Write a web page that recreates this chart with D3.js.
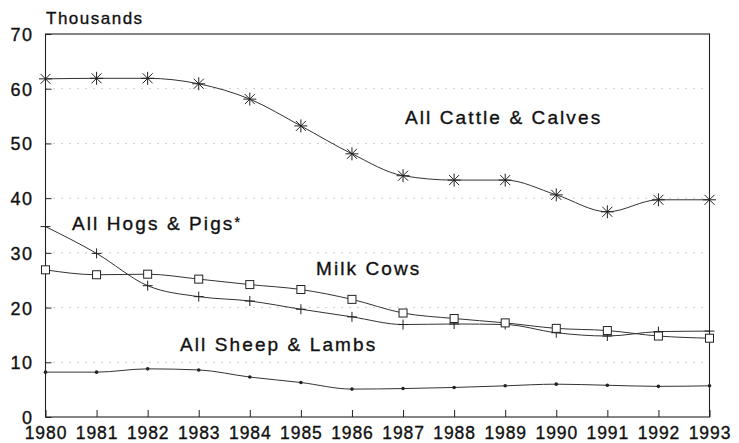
<!DOCTYPE html>
<html>
<head>
<meta charset="utf-8">
<script src="https://cdn.jsdelivr.net/npm/d3@7"></script>
<style>
  html, body { margin: 0; padding: 0; background: #fff; }
  svg { display: block; font-family: "Liberation Sans", Arial, sans-serif; }
</style>
</head>
<body>
<svg id="chart" width="739" height="443"></svg>
<script>
// Livestock inventory, thousands of head
const years = [1980, 1981, 1982, 1983, 1984, 1985, 1986, 1987, 1988, 1989, 1990, 1991, 1992, 1993];
const cattle = [61.8, 61.9, 61.9, 60.9, 58.1, 53.2, 48.1, 44.1, 43.3, 43.3, 40.6, 37.5, 39.7, 39.7];
const hogs   = [34.8, 29.9, 24.0, 22.0, 21.2, 19.7, 18.3, 16.9, 17.0, 16.9, 15.4, 14.8, 15.6, 15.7];
const milk   = [26.9, 26.0, 26.1, 25.2, 24.2, 23.3, 21.5, 19.0, 18.0, 17.2, 16.2, 15.8, 14.8, 14.4];
const sheep  = [8.2, 8.2, 8.8, 8.6, 7.3, 6.3, 5.1, 5.2, 5.4, 5.7, 6.0, 5.8, 5.6, 5.7];
const yTicks = [0, 10, 20, 30, 40, 50, 60, 70];

const seriesLabels = ["All Cattle & Calves", "All Hogs & Pigs", "Milk Cows", "All Sheep & Lambs"];

const svg = d3.select("#chart");
const ink = "#222";

const x = d3.scaleLinear().domain([1980, 1993]).range([45.5, 709.5]);
const y = d3.scaleLinear().domain([0, 70]).range([417, 34]);

// slightly heavier text to match the plotter lettering
const heavy = sel => sel.attr("fill", "#111").attr("stroke", "#111").attr("stroke-width", 0.35);

// dotted gridlines
svg.append("g")
  .selectAll("line")
  .data(yTicks.filter(d => d > 0 && d < 70))
  .join("line")
  .attr("x1", x(1980)).attr("x2", x(1993))
  .attr("y1", d => y(d)).attr("y2", d => y(d))
  .attr("stroke", "#999")
  .attr("stroke-width", 1)
  .attr("stroke-dasharray", "1,7");

// left axis: inward ticks, labels on the left
const yAxis = d3.axisLeft(y).tickValues(yTicks).tickSize(-6).tickPadding(12).tickFormat(d3.format("d"));
const gy = svg.append("g").attr("transform", `translate(${x(1980)},0)`).call(yAxis);
gy.select(".domain").remove();
gy.selectAll(".tick line").attr("stroke", ink).attr("stroke-width", 1);
gy.selectAll(".tick text")
  .call(heavy)
  .style("font-size", "18px")
  .style("letter-spacing", "1.5px")
  .attr("dy", "0.36em");

// bottom axis: inward ticks, year labels below
const xAxis = d3.axisBottom(x).tickValues(years).tickSize(-7).tickPadding(10).tickFormat(d3.format("d"));
const gx = svg.append("g").attr("transform", `translate(0,${y(0)})`).call(xAxis);
gx.select(".domain").remove();
gx.selectAll(".tick line").attr("stroke", ink).attr("stroke-width", 1);
gx.selectAll(".tick text")
  .call(heavy)
  .style("font-size", "17.5px")
  .style("letter-spacing", "0.9px")
  .attr("dy", "0.71em");

// frame
svg.append("rect")
  .attr("x", x(1980)).attr("y", y(70))
  .attr("width", x(1993) - x(1980)).attr("height", y(0) - y(70))
  .attr("fill", "none").attr("stroke", ink).attr("stroke-width", 1.1);

svg.append("text")
  .attr("x", 46).attr("y", 24)
  .call(heavy)
  .style("font-size", "17px")
  .style("letter-spacing", "1.5px")
  .text("Thousands");

// series lines
const line = d3.line()
  .x((d, i) => x(years[i]))
  .y(d => y(d))
  .curve(d3.curveMonotoneX);

const series = [
  { name: seriesLabels[0], values: cattle, marker: "star" },
  { name: seriesLabels[1], values: hogs, marker: "plus" },
  { name: seriesLabels[2], values: milk, marker: "square" },
  { name: seriesLabels[3], values: sheep, marker: "dot" }
];

series.forEach(s => {
  svg.append("path")
    .datum(s.values)
    .attr("d", line)
    .attr("fill", "none")
    .attr("stroke", "#333")
    .attr("stroke-width", 1);
});

// markers
series.forEach(s => {
  const g = svg.append("g").attr("stroke", "#222").attr("stroke-width", 1);
  s.values.forEach((v, i) => {
    const cx = x(years[i]), cy = y(v);
    if (s.marker === "star") {
      const r = 6.5, d = 5;
      g.append("line").attr("x1", cx).attr("x2", cx).attr("y1", cy - r).attr("y2", cy + r);
      g.append("line").attr("x1", cx - r).attr("x2", cx + r).attr("y1", cy).attr("y2", cy);
      g.append("line").attr("x1", cx - d).attr("x2", cx + d).attr("y1", cy - d).attr("y2", cy + d);
      g.append("line").attr("x1", cx - d).attr("x2", cx + d).attr("y1", cy + d).attr("y2", cy - d);
    } else if (s.marker === "plus") {
      const r = 5;
      g.append("line").attr("x1", cx).attr("x2", cx).attr("y1", cy - r).attr("y2", cy + r);
      g.append("line").attr("x1", cx - r).attr("x2", cx + r).attr("y1", cy).attr("y2", cy);
    } else if (s.marker === "square") {
      g.append("rect").attr("x", cx - 4).attr("y", cy - 4).attr("width", 8).attr("height", 8)
        .attr("fill", "#fff");
    } else {
      g.append("circle").attr("cx", cx).attr("cy", cy).attr("r", 1.8).attr("fill", "#222").attr("stroke", "none");
    }
  });
});

// series labels
const labelStyle = sel => sel
  .call(heavy)
  .style("font-size", "19px")
  .style("letter-spacing", "2.1px");

svg.append("text").attr("x", 405).attr("y", 124).call(labelStyle).text(seriesLabels[0]);
const hogLabel = svg.append("text").attr("x", 72).attr("y", 230).call(labelStyle);
hogLabel.append("tspan").text(seriesLabels[1]);
hogLabel.append("tspan").attr("dy", "-3").style("font-size", "14px").style("letter-spacing", "0px").text("*");
svg.append("text").attr("x", 316).attr("y", 275).call(labelStyle).text(seriesLabels[2]);
svg.append("text").attr("x", 180).attr("y", 351).call(labelStyle).text(seriesLabels[3]);
</script>
</body>
</html>
